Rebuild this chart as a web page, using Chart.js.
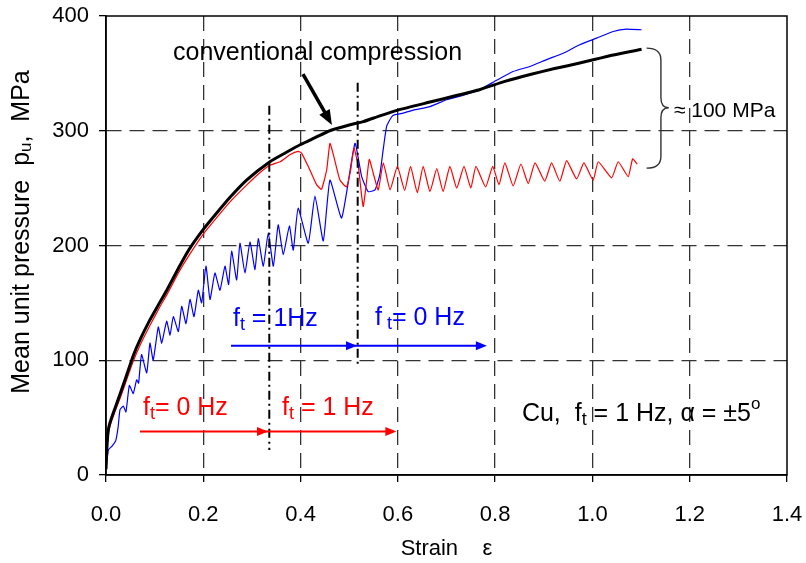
<!DOCTYPE html>
<html><head><meta charset="utf-8">
<script src="https://cdn.jsdelivr.net/npm/chart.js@4.4.1/dist/chart.umd.min.js"></script>
<style>html,body{margin:0;padding:0;background:#fff;}#wrap{width:806px;height:563px;}</style>
</head><body><div id="wrap"><canvas id="c" width="806" height="563"></canvas></div>
<script>
// ---------- data (strain, MPa) ----------
const xTicks = [0, 0.2, 0.4, 0.6, 0.8, 1.0, 1.2, 1.4];
const yTicks = [0, 100, 200, 300, 400];

const convStrain = [0, 0.002, 0.005, 0.01, 0.02, 0.03, 0.04, 0.056, 0.07, 0.09, 0.11, 0.125, 0.15, 0.17, 0.2, 0.225, 0.255, 0.289, 0.337, 0.37, 0.4, 0.43, 0.46, 0.5, 0.529, 0.563, 0.6, 0.666, 0.714, 0.769, 0.82, 0.872, 0.92, 0.974, 1.043, 1.101];
const convPressure = [5, 25, 40, 48, 60, 72, 84, 104, 118, 135, 150, 161, 181, 196, 214, 227, 242, 257, 273, 281, 288, 294, 300, 305, 308, 313, 318, 325, 330, 336, 343, 349, 354, 359, 366, 371];

const redStrain = [0, 0.002, 0.005, 0.01, 0.02, 0.03, 0.04, 0.056, 0.07, 0.09, 0.11, 0.125, 0.15, 0.17, 0.2, 0.225, 0.255, 0.29, 0.315, 0.337, 0.358, 0.378, 0.395, 0.402, 0.419, 0.433, 0.443, 0.4537, 0.4604, 0.4687, 0.481, 0.4947, 0.503, 0.5098, 0.5187, 0.5256, 0.5289, 0.5344, 0.5412, 0.5494, 0.5597, 0.570, 0.584, 0.599, 0.614, 0.626, 0.640, 0.652, 0.666, 0.680, 0.693, 0.707, 0.721, 0.736, 0.750, 0.7605, 0.7805, 0.795, 0.808, 0.820, 0.837, 0.853, 0.868, 0.882, 0.902, 0.916, 0.933, 0.947, 0.9675, 0.9825, 1.0016, 1.012, 1.0395, 1.053, 1.0736, 1.0826, 1.092];
const redPressure = [6, 22, 36, 45, 57, 68, 80, 99, 113, 130, 146, 157, 177, 191, 210, 223, 238, 253, 263, 270, 273, 279, 282, 280.5, 266, 253, 249, 266, 289, 277, 257, 251, 266, 285, 269, 243, 234, 251, 275, 263, 248.5, 272, 248.5, 269, 248, 269, 246, 269, 247, 267, 247, 269, 250, 269, 250, 269, 251, 269, 253, 272, 252, 271, 254, 272, 256, 272, 256, 274, 258, 272, 257, 273, 259, 273, 260, 275.5, 271];

const blueStrain = [0, 0.005, 0.012, 0.02, 0.025, 0.0288, 0.0356, 0.041, 0.048, 0.056, 0.063, 0.067, 0.073, 0.0837, 0.0904, 0.097, 0.1075, 0.1145, 0.1247, 0.1316, 0.1384, 0.1487, 0.1556, 0.1644, 0.1727, 0.1809, 0.1898, 0.1966, 0.2055, 0.2138, 0.224, 0.2343, 0.2446, 0.252, 0.2583, 0.2686, 0.2754, 0.2857, 0.296, 0.3063, 0.313, 0.3234, 0.3336, 0.344, 0.354, 0.3644, 0.377, 0.385, 0.395, 0.4158, 0.4296, 0.4467, 0.4604, 0.4845, 0.5118, 0.5256, 0.539, 0.553, 0.563, 0.57, 0.577, 0.587, 0.594, 0.611, 0.6317, 0.666, 0.70, 0.735, 0.769, 0.803, 0.837, 0.8715, 0.906, 0.94, 0.974, 1.0086, 1.0428, 1.0703, 1.101];
const bluePressure = [6, 22, 25, 30, 42, 57, 60, 55, 78, 71, 83, 80, 105, 89, 115, 100, 129, 115, 134, 122, 138, 125, 147, 132, 153, 138, 161, 150, 182, 153, 176, 161, 182, 166, 195, 170, 202, 176, 203, 179, 206, 182, 211, 182, 218, 192, 217, 196, 232.5, 202, 243, 204, 257, 224, 289, 260, 247, 248.5, 262, 284, 304, 312, 314, 315.3, 318, 321, 327, 331, 336, 344, 351.6, 356, 362, 367.6, 375, 380.7, 386.5, 388.6, 388];

// ---------- helpers ----------
const FONT = "'Liberation Sans', Arial, Helvetica, sans-serif";
const toXY = (xs, ys) => xs.map((x, i) => ({ x: x, y: ys[i] }));

function drawRich(ctx, x, y, parts, color) {
  ctx.save();
  ctx.fillStyle = color;
  ctx.textAlign = 'left';
  ctx.textBaseline = 'alphabetic';
  let cx = x;
  for (const [t, size, dy] of parts) {
    ctx.font = size + 'px ' + FONT;
    ctx.fillText(t, cx, y + dy);
    cx += ctx.measureText(t).width;
  }
  ctx.restore();
}
function head(ctx, x, y, ang, len, wid, color) {
  ctx.save();
  ctx.translate(x, y); ctx.rotate(ang);
  ctx.fillStyle = color;
  ctx.beginPath(); ctx.moveTo(0, 0); ctx.lineTo(-len, -wid); ctx.lineTo(-len, wid); ctx.closePath(); ctx.fill();
  ctx.restore();
}

const annotate = {
  id: 'annotate',
  beforeDatasetsDraw(chart) {
    const { ctx, chartArea: a } = chart;
    ctx.save();
    ctx.strokeStyle = '#000'; ctx.lineWidth = 1.5;
    ctx.strokeRect(a.left, a.top, a.right - a.left, a.bottom - a.top);
    ctx.restore();
  },
  afterDatasetsDraw(chart) {
    const { ctx } = chart;
    const X = v => chart.scales.x.getPixelForValue(v);
    const Y = v => chart.scales.y.getPixelForValue(v);
    ctx.save();
    // dash-dot switch lines
    ctx.strokeStyle = '#000'; ctx.lineWidth = 2; ctx.setLineDash([9, 4, 2, 4]);
    ctx.beginPath(); ctx.moveTo(X(0.3357), Y(321.7)); ctx.lineTo(X(0.3357), Y(21.8)); ctx.stroke();
    ctx.beginPath(); ctx.moveTo(X(0.5174), Y(341.8)); ctx.lineTo(X(0.5174), Y(95.9)); ctx.stroke();
    ctx.setLineDash([]);
    // blue arrow
    ctx.strokeStyle = '#0000ff'; ctx.lineWidth = 2;
    ctx.beginPath(); ctx.moveTo(X(0.257), Y(112.7)); ctx.lineTo(X(0.772), Y(112.7)); ctx.stroke();
    head(ctx, X(0.516), Y(112.7), 0, 11, 4.5, '#0000ff');
    head(ctx, X(0.783), Y(112.7), 0, 11, 4.5, '#0000ff');
    // red arrow
    ctx.strokeStyle = '#ff0000';
    ctx.beginPath(); ctx.moveTo(X(0.070), Y(37.8)); ctx.lineTo(X(0.586), Y(37.8)); ctx.stroke();
    head(ctx, X(0.333), Y(37.8), 0, 11, 4.5, '#ff0000');
    head(ctx, X(0.597), Y(37.8), 0, 11, 4.5, '#ff0000');
    // black pointer arrow
    const x1 = X(0.4049), y1 = Y(349.4), x2 = X(0.4645), y2 = Y(305.1);
    const ang = Math.atan2(y2 - y1, x2 - x1);
    ctx.strokeStyle = '#000'; ctx.lineWidth = 3.5;
    ctx.beginPath(); ctx.moveTo(x1, y1); ctx.lineTo(x2 - 12 * Math.cos(ang), y2 - 12 * Math.sin(ang)); ctx.stroke();
    head(ctx, x2, y2, ang, 15, 6, '#000');
    // brace
    const bx0 = X(1.1113), bx1 = X(1.1408), bx2 = X(1.157);
    const bt = Y(372), bm = Y(320), bb = Y(267.4);
    ctx.strokeStyle = '#333'; ctx.lineWidth = 1.4;
    ctx.beginPath();
    ctx.moveTo(bx0, bt);
    ctx.quadraticCurveTo(bx1, bt, bx1, bt + 12);
    ctx.lineTo(bx1, bm - 10);
    ctx.quadraticCurveTo(bx1, bm, bx2, bm);
    ctx.quadraticCurveTo(bx1, bm, bx1, bm + 10);
    ctx.lineTo(bx1, bb - 12);
    ctx.quadraticCurveTo(bx1, bb, bx0, bb);
    ctx.stroke();
    ctx.restore();

    // texts
    drawRich(ctx, X(0.1377), Y(361.8), [['conventional compression', 25, 0]], '#000');
    drawRich(ctx, X(1.1675), Y(312.1), [['\u2248 100 MPa', 21, 0]], '#000');
    drawRich(ctx, X(0.261), Y(129.9), [['f', 25, 0], ['t', 18, 4], [' = 1Hz', 25, 0]], '#0000ff');
    drawRich(ctx, X(0.553), Y(130.8), [['f', 25, 0], [' t', 18, 4], ['= 0 Hz', 25, 0]], '#0000ff');
    drawRich(ctx, X(0.076), Y(52.3), [['f', 25, 0], ['t', 18, 4], ['= 0 Hz', 25, 0]], '#ff0000');
    drawRich(ctx, X(0.3618), Y(52.3), [['f', 25, 0], ['t', 18, 4], [' = 1 Hz', 25, 0]], '#ff0000');
    drawRich(ctx, X(0.855), Y(47.1), [['Cu,  f', 25, 0], ['t', 18, 4], [' = 1 Hz, \u03B1 = \u00B15', 25, 0], ['o', 17, -12]], '#000');

    // y axis title with subscript
    ctx.save();
    ctx.translate(22, 232);
    ctx.rotate(-Math.PI / 2);
    ctx.textBaseline = 'middle';
    const parts = [['Mean unit pressure  p', 25, 0], ['u', 17, 4], [',  MPa', 25, 0]];
    let w = 0;
    for (const [t, s] of parts) { ctx.font = s + 'px ' + FONT; w += ctx.measureText(t).width; }
    let cx = -w / 2;
    ctx.fillStyle = '#000'; ctx.textAlign = 'left';
    for (const [t, s, dy] of parts) { ctx.font = s + 'px ' + FONT; ctx.fillText(t, cx, dy); cx += ctx.measureText(t).width; }
    ctx.restore();
  }
};

const gridColor = c => (c.tick && (c.tick.value === 0 || c.tick.value === 1.4 || c.tick.value === 400)) ? 'rgba(0,0,0,0)' : '#333';

new Chart(document.getElementById('c'), {
  type: 'scatter',
  data: {
    datasets: [
      { label: 'conventional compression', data: toXY(convStrain, convPressure), showLine: true, borderColor: '#000', borderWidth: 3, pointRadius: 0, tension: 0.2 },
      { label: 'ft = 0 Hz \u2192 1 Hz', data: toXY(redStrain, redPressure), showLine: true, borderColor: '#ff0000', borderWidth: 1.2, pointRadius: 0, tension: 0.15 },
      { label: 'ft = 1 Hz \u2192 0 Hz', data: toXY(blueStrain, bluePressure), showLine: true, borderColor: '#0000ff', borderWidth: 1.2, pointRadius: 0, tension: 0.15 }
    ]
  },
  options: {
    responsive: false,
    animation: false,
    layout: { padding: { left: 0, right: 19, top: 16, bottom: 0 } },
    plugins: { legend: { display: false }, tooltip: { enabled: false } },
    scales: {
      x: {
        type: 'linear', min: 0, max: 1.4,
        afterBuildTicks: ax => { ax.ticks = xTicks.map(v => ({ value: v })); },
        afterFit: ax => { ax.height = 88; ax.paddingLeft = 0; ax.paddingRight = 0; },
        ticks: { color: '#000', font: { family: FONT, size: 22 }, padding: 20, callback: v => Number(v).toFixed(1), maxRotation: 0 },
        grid: { color: gridColor, lineWidth: 1.3, tickColor: '#000', tickLength: 7, tickWidth: 1.3 },
        border: { display: true, color: '#000', width: 1.5, dash: [15, 8] },
        title: { display: true, text: 'Strain    \u03B5', color: '#000', font: { family: FONT, size: 22 }, padding: { top: 0, bottom: 1 } }
      },
      y: {
        type: 'linear', min: 0, max: 400,
        afterBuildTicks: ax => { ax.ticks = yTicks.map(v => ({ value: v })); },
        afterFit: ax => { ax.width = 106; ax.paddingTop = 0; ax.paddingBottom = 0; },
        ticks: { color: '#000', font: { family: FONT, size: 22 }, padding: 10 },
        grid: { color: gridColor, lineWidth: 1.3, tickColor: '#000', tickLength: 7, tickWidth: 1.3 },
        border: { display: true, color: '#000', width: 1.5, dash: [15, 8] }
      }
    }
  },
  plugins: [annotate]
});
</script></body></html>
